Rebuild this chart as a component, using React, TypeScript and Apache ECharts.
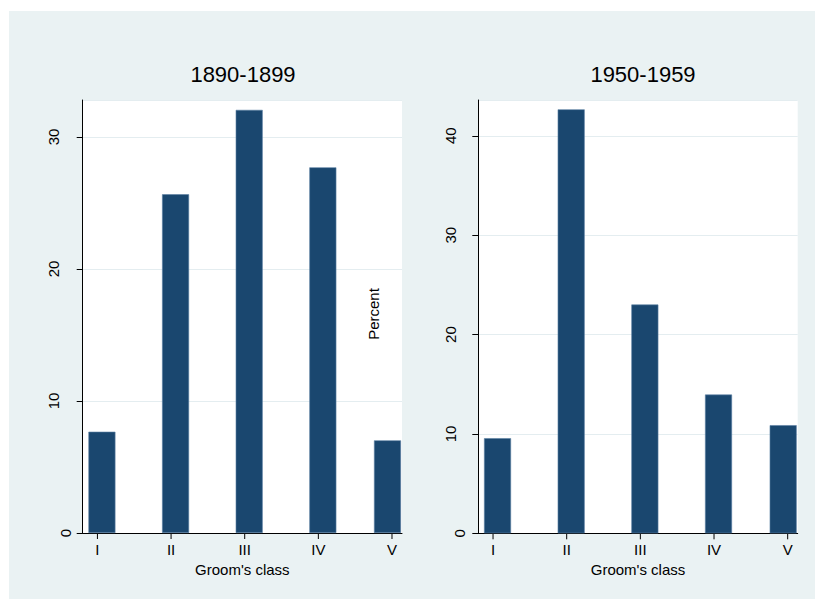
import React, { useEffect, useRef } from "react";
import * as echarts from "echarts";

const categories = ["I", "II", "III", "IV", "V"];
const classIndex = [1, 2, 3, 4, 5];
const percent1890 = [7.67, 25.66, 32.05, 27.7, 7.02];
const percent1950 = [9.57, 42.66, 23.02, 13.96, 10.88];
const panelTitles = ["1890-1899", "1950-1959"];
const yMax = [32.8, 43.6];
const xAxisName = "Groom's class";
const yAxisName = "Percent";

const FONT = "'Liberation Sans', Arial, Helvetica, sans-serif";
const BAR = "#1a476f";
const BG = "#eaf2f3";
const GRIDLINE = "#e4edf0";

export default function App() {
  const ref = useRef<HTMLDivElement>(null);
  useEffect(() => {
    if (!ref.current) return;
    const chart = echarts.init(ref.current, null, { renderer: "svg" });
    const grids = [
      { left: 82.7, top: 100, width: 319.3, height: 433 },
      { left: 478.3, top: 100, width: 319.4, height: 433.3 },
    ];
    const labelMargins = [10, 8];
    const zeroShift = [12, 9];
    const titleX = [243, 643];
    const data = [percent1890, percent1950];
    const last = categories.length - 1;

    const barSeries: any[] = [];
    data.forEach((vals, i) => {
      // last class drawn as its own series so that it sits just inside the plot
      barSeries.push({
        type: "bar",
        xAxisIndex: i,
        yAxisIndex: i,
        barWidth: 27,
        barGap: "-66.7%",
        data: vals.map((v, k) => [classIndex[k], k === last ? v : null]),
        itemStyle: { color: BAR, borderColor: "#5a7fa3", borderWidth: 0.6 },
      });
      barSeries.push({
        type: "bar",
        xAxisIndex: i,
        yAxisIndex: i,
        barWidth: 27,
        barGap: "-66.7%",
        data: vals.map((v, k) => [classIndex[k], k === last ? null : v]),
        itemStyle: { color: BAR, borderColor: "#5a7fa3", borderWidth: 0.6 },
      });
      barSeries.push({
        type: "custom",
        xAxisIndex: i,
        yAxisIndex: i,
        clip: false,
        silent: true,
        data: classIndex.map((c) => [c, 0]),
        renderItem: (_p: any, api: any) => {
          const pt = api.coord([api.value(0), 0]);
          return {
            type: "line",
            shape: { x1: pt[0], y1: pt[1], x2: pt[0], y2: pt[1] + 6 },
            style: { stroke: "#000", lineWidth: 1 },
          };
        },
      });
    });

    chart.setOption({
      animation: false,
      backgroundColor: BG,
      textStyle: { fontFamily: FONT },
      title: panelTitles.map((t, i) => ({
        text: t,
        left: titleX[i],
        top: 63,
        padding: 0,
        textAlign: "center",
        textStyle: { fontFamily: FONT, fontSize: 22, fontWeight: "normal", color: "#000" },
      })),
      graphic: [
        { type: "rect", shape: { x: 0, y: 0, width: 815, height: 11 }, style: { fill: "#fff" }, silent: true },
        { type: "rect", shape: { x: 0, y: 0, width: 9, height: 599 }, style: { fill: "#fff" }, silent: true },
        {
          type: "text",
          x: 373,
          y: 314,
          rotation: Math.PI / 2,
          style: {
            text: yAxisName,
            fontFamily: FONT,
            fontSize: 15,
            fill: "#000",
            align: "center",
            verticalAlign: "middle",
          },
        },
      ],
      grid: grids.map((g) => ({
        ...g,
        show: true,
        backgroundColor: "#fff",
        borderWidth: 0,
      })),
      xAxis: grids.map((_, i) => ({
        type: "value",
        gridIndex: i,
        min: 0.8,
        max: 5.136,
        name: xAxisName,
        nameLocation: "middle",
        nameGap: 25,
        nameTextStyle: { fontFamily: FONT, fontSize: 15, color: "#000" },
        axisLine: { show: true, onZero: false, lineStyle: { color: "#000", width: 1 } },
        axisTick: { show: false },
        axisLabel: {
          show: true,
          margin: 9,
          fontFamily: FONT,
          fontSize: 15,
          color: "#000",
          customValues: classIndex,
          formatter: (v: number) => categories[Math.round(v) - 1] ?? "",
        },
        splitLine: { show: false },
      })),
      yAxis: grids.map((_, i) => ({
        type: "value",
        gridIndex: i,
        min: 0,
        max: yMax[i],
        interval: 10,
        axisLine: { show: true, lineStyle: { color: "#000", width: 1 } },
        axisTick: { show: true, length: 6, lineStyle: { color: "#000" } },
        axisLabel: {
          show: true,
          rotate: 90,
          margin: labelMargins[i],
          fontFamily: FONT,
          fontSize: 15,
          color: "#000",
          showMaxLabel: false,
          formatter: (v: number) => (v === 0 ? "{z|0}" : "{n|" + v + "}"),
          rich: {
            z: { fontFamily: FONT, fontSize: 15, color: "#000", padding: [0, 0, 12 - zeroShift[i], 0] },
            n: { fontFamily: FONT, fontSize: 15, color: "#000", padding: [0, 0, 12, 0] },
          },
        },
        splitLine: { show: true, lineStyle: { color: GRIDLINE, width: 1 } },
      })),
      series: barSeries,
    });
    return () => chart.dispose();
  }, []);
  return (
    <div
      ref={ref}
      style={{ position: "absolute", left: 0, top: 0, width: 815, height: 599 }}
    />
  );
}
